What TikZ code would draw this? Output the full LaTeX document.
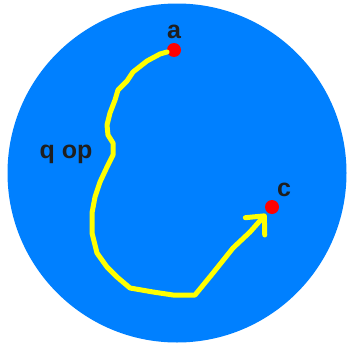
\documentclass[tikz,border=0pt]{standalone}
\usepackage{fontspec}
\setmainfont{Liberation Sans}
\usetikzlibrary{arrows.meta}
\definecolor{discblue}{HTML}{0080FF}
\definecolor{pathyellow}{HTML}{FFFF00}
\tikzset{
  pt/.style={circle,fill=red,inner sep=0pt,minimum size=14pt},
  lbl/.style={font=\fontsize{25}{27}\selectfont\bfseries,text=black!88,inner sep=0pt},
  walk/.style={draw=pathyellow,line width=5pt,line cap=round,line join=round}
}
\begin{document}
\begin{tikzpicture}[x=1pt,y=-1pt]
\useasboundingbox (0,0) rectangle (348,343);
\clip (0,0) rectangle (348,343);
\fill[discblue] (177,173) circle (169.5);
\node[pt] (a) at (174,50) {};
\node[pt] (c) at (272,207) {};
\node[lbl] (la) at (174,32) {a};
\node[lbl] (lc) at (284,190) {c};
\node[lbl] (lq) at (66,154) {q op};
\coordinate (tip) at (266,214);
\draw[walk,-{Straight Barb[length=14pt,width=26pt,line width=5pt,round]}]
  (a) -- (160,54) -- (147,61) -- (133,72) -- (127,81) -- (118,90) -- (115,100)
  -- (110,113) -- (107,125) -- (108,135) -- (113,143) -- (113,155) -- (107,167)
  -- (100,182) -- (95,197) -- (92,213) -- (92,233) -- (97,253) -- (107,267)
  -- (117,277) -- (130,288) -- (153,292) -- (173,295) -- (195,295) -- (213,273)
  -- (233,248) -- (250,232) -- (tip);
\end{tikzpicture}
\end{document}
